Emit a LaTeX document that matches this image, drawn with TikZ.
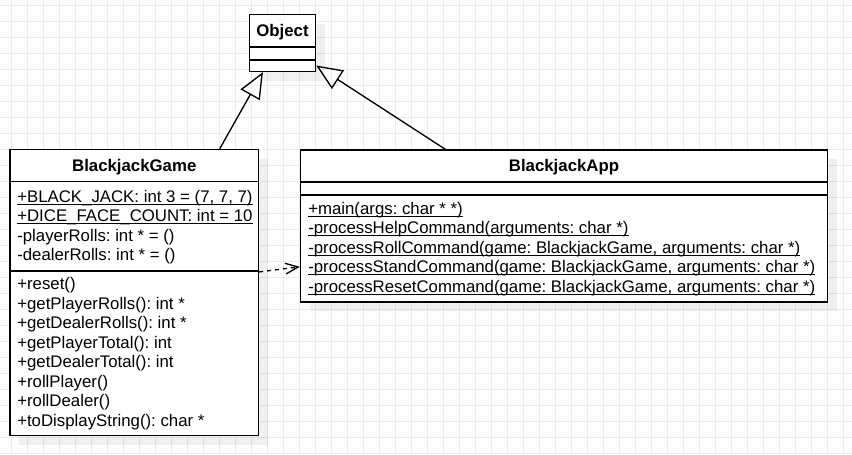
\documentclass[tikz,border=0pt]{standalone}
\usepackage{fontspec}
\setmainfont{Liberation Sans}
\usetikzlibrary{arrows.meta,calc,fit,shadows}
\frenchspacing
\newsavebox\ulbox
\newcommand{\myul}[1]{\sbox\ulbox{#1}\rlap{\vrule height -1.3pt depth 2.1pt width \wd\ulbox}\usebox\ulbox}
\tikzset{
  umlbox/.style={draw, line width=1pt, fill=white, inner sep=0pt,
    drop shadow={shadow xshift=6.75pt, shadow yshift=-6.75pt, fill=black, opacity=0.06}},
  umltitle/.style={font=\fontsize{12.6}{14.7}\selectfont\bfseries\frenchspacing, anchor=base, inner sep=0pt},
  member/.style={font=\fontsize{12.6}{14.7}\selectfont\frenchspacing, anchor=base west, inner sep=0pt},
  gen/.style={line width=1pt, -{Triangle[open, length=19.5pt, width=16.5pt]}},
  dep/.style={line width=1pt, dash pattern=on 3pt off 3pt, -{Straight Barb[length=9.5pt, width=8pt]}},
  gridline/.style={draw=black!8, line width=0.75pt},
  divider/.style={line width=1pt},
}
\begin{document}
\begin{tikzpicture}[x=0.75pt,y=-0.75pt]
\useasboundingbox (0,0) rectangle (852,454);
\fill[white] (0,0) rectangle (852,454);
% background grid
\foreach \x in {11.3,27.3,...,852} \draw[gridline] (\x,0) -- (\x,454);
\foreach \y in {5.3,21.3,...,454} \draw[gridline] (0,\y) -- (852,\y);

% Object
\coordinate (o1) at (249.5,14.5);
\coordinate (o2) at (315.5,71.5);
\node[umlbox, fit=(o1)(o2)] (obj) {};
\draw[divider] ($(obj.north west)+(0,33)$) -- ($(obj.north east)+(0,33)$);
\draw[divider] ($(obj.north west)+(0,46)$) -- ($(obj.north east)+(0,46)$);
\node[umltitle] (objt) at (282.5,36) {Object};

% BlackjackGame
\coordinate (g1) at (10,149.5);
\coordinate (g2) at (258.5,435.5);
\node[umlbox, fit=(g1)(g2)] (game) {};
\draw[divider] ($(game.north west)+(0,32.8)$) -- ($(game.north east)+(0,32.8)$);
\draw[divider] ($(game.north west)+(0,122)$) -- ($(game.north east)+(0,122)$);
\node[umltitle] (gamet) at (134.25,171) {BlackjackGame};
\node[member] (ga1) at (17,202) {\myul{+BLACK\_JACK: int 3 = (7, 7, 7)}};
\node[member] (ga2) at (17,221.5) {\myul{+DICE\_FACE\_COUNT: int = 10}};
\node[member] (ga3) at (17,241) {-playerRolls: int * = ()};
\node[member] (ga4) at (17,260.5) {-dealerRolls: int * = ()};
\node[member] (gm1) at (17,289.8) {+reset()};
\node[member] (gm2) at (17,309.3) {+getPlayerRolls(): int *};
\node[member] (gm3) at (17,328.8) {+getDealerRolls(): int *};
\node[member] (gm4) at (17,348.3) {+getPlayerTotal(): int};
\node[member] (gm5) at (17,367.8) {+getDealerTotal(): int};
\node[member] (gm6) at (17,387.3) {+rollPlayer()};
\node[member] (gm7) at (17,406.8) {+rollDealer()};
\node[member] (gm8) at (17,426.3) {+toDisplayString(): char *};

% BlackjackApp
\coordinate (a1) at (300.5,150);
\coordinate (a2) at (827.5,302);
\node[umlbox, fit=(a1)(a2)] (app) {};
\draw[divider] ($(app.north west)+(0,32.5)$) -- ($(app.north east)+(0,32.5)$);
\draw[divider] ($(app.north west)+(0,45.5)$) -- ($(app.north east)+(0,45.5)$);
\node[umltitle] (appt) at (564,171.5) {BlackjackApp};
\node[member] (am1) at (308,214) {\myul{+main(args: char * *)}};
\node[member] (am2) at (308,233.5) {\myul{-processHelpCommand(arguments: char *)}};
\node[member] (am3) at (308,253) {\myul{-processRollCommand(game: BlackjackGame, arguments: char *)}};
\node[member] (am4) at (308,272.5) {\myul{-processStandCommand(game: BlackjackGame, arguments: char *)}};
\node[member] (am5) at (308,292) {\myul{-processResetCommand(game: BlackjackGame, arguments: char *)}};

% connectors
\draw[gen] ($(game.north west)!0.842!(game.north east)$) -- ($(obj.south west)!0.209!(obj.south east)$);
\draw[gen] ($(app.north west)!0.2755!(app.north east)$) -- ($(obj.north east)!0.886!(obj.south east)$);
\draw[dep] ($(game.north east)!0.4283!(game.south east)$) -- ($(app.north west)!0.766!(app.south west)$);
\end{tikzpicture}
\end{document}
